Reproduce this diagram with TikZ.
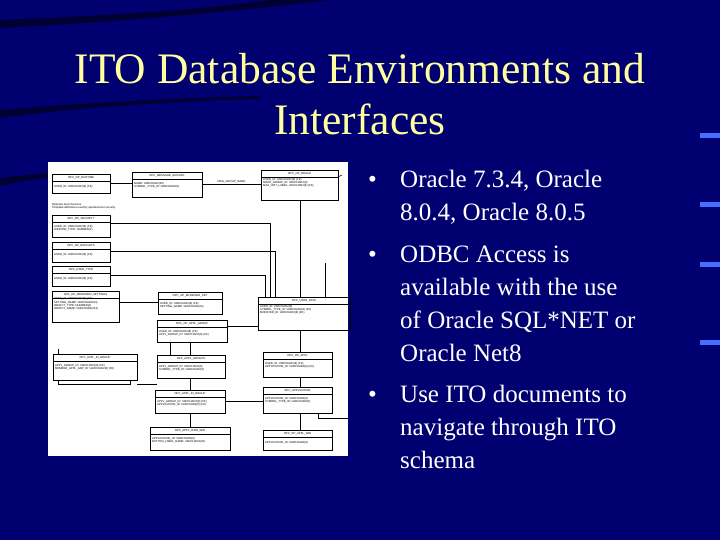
\documentclass[tikz,border=0pt]{standalone}
\usepackage{fontspec}
\setmainfont{Liberation Serif}
\newfontfamily\erf{Liberation Sans}
\definecolor{bgblue}{RGB}{0,0,112}
\definecolor{ttl}{RGB}{255,255,160}
\definecolor{tick}{RGB}{70,110,255}
\tikzset{x=1pt,y=-1pt,
 er/.style={draw=black,line width=0.5pt},
 erl/.style={draw=black,line width=0.5pt},
 ertxt/.style={font=\erf\fontsize{2.8}{3.2}\selectfont,text=black,inner sep=0pt,anchor=west,align=left},
 ertl/.style={font=\erf\fontsize{2.8}{3.2}\selectfont,text=black,inner sep=0pt},
 bul/.style={font=\fontsize{25}{31}\selectfont,text=white,anchor=base west,inner sep=0pt},
 ttlst/.style={text=ttl,font=\fontsize{43.5}{50}\selectfont,anchor=base,inner sep=0pt},
}
\newcommand{\erbox}[7]{%
 \draw[er] (#2,#3) rectangle (#4,#5);
 \draw[er] (#2,#3+7) -- (#4,#3+7);
 \node[ertl] (#1) at ({(#2+#4)/2},#3+3.5) {#6};
 \node[ertxt] (#1a) at (#2+2,#3+13) {#7};}
\begin{document}
\begin{tikzpicture}
\useasboundingbox (0,0) rectangle (720,540);
\fill[bgblue] (0,0) rectangle (720,540);
% dark background swooshes
\fill[black,opacity=0.55] (0,28) .. controls (120,22) and (250,10) .. (330,0) -- (270,0) .. controls (200,10) and (100,16) .. (0,20) -- cycle;
\fill[black,opacity=0.55] (0,110) .. controls (80,103) and (180,98) .. (260,96) -- (260,99) .. controls (180,101) and (80,107) .. (0,118) -- cycle;
\fill[black,opacity=0.55] (0,178) .. controls (40,173) and (80,170) .. (120,168) -- (120,171) .. controls (80,173) and (40,177) .. (0,186) -- cycle;
\foreach \yy in {133,202,262,340} \fill[tick] (700,\yy) rectangle (720,\yy+5);
% title
\node[ttlst] (title1) at (360,84) {ITO Database Environments and};
\node[ttlst] (title2) at (360,135) {Interfaces};
% bullets
\node[bul] (b1) at (368,188) {•};
\node[bul] (t1) at (400,188) {Oracle 7.3.4, Oracle};
\node[bul] (t1b) at (400,221) {8.0.4, Oracle 8.0.5};
\node[bul] (b2) at (368,262) {•};
\node[bul] (t2) at (400,262) {ODBC Access is};
\node[bul] (t2b) at (400,295) {available with the use};
\node[bul] (t2c) at (400,328) {of Oracle SQL*NET or};
\node[bul] (t2d) at (400,361) {Oracle Net8};
\node[bul] (b3) at (368,402) {•};
\node[bul] (t3) at (400,402) {Use ITO documents to};
\node[bul] (t3b) at (400,435) {navigate through ITO};
\node[bul] (t3c) at (400,468) {schema};
% ER diagram
\fill[white] (48,162) rectangle (348,456);
\erbox{rt}{52}{174}{110}{193}{OPC\_OP\_RUNTIME}{USER\_ID: VARCHAR2(8) (FK)}
\erbox{mg}{132}{172}{202}{197}{OPC\_MESSAGE\_GROUPS}{NAME: VARCHAR2(32)\\SYMBOL\_TYPE\_ID: VARCHAR2(8)}
\erbox{tm}{261}{170}{338}{200}{OPC\_OP\_REALM}{USER\_ID: VARCHAR2(8) (FK)\\NODE\_GROUP\_ID: VARCHAR2(8)\\MAX\_VIRT\_LABEL: VARCHAR2(8) (FK)}
\node[ertxt] (note) at (52,206) {Operator level Services\\Template definitions used by operator/user security};
\erbox{sc}{52}{215}{110}{237}{OPC\_OP\_SECURITY}{USER\_ID: VARCHAR2(8) (FK)\\WINDOW\_TYPE: NUMBER(1)}
\erbox{df}{52}{242}{110}{262}{OPC\_OP\_DEFAULTS}{USER\_ID: VARCHAR2(8) (FK)}
\erbox{ut}{52}{266}{110}{286}{OPC\_USER\_TYPE}{USER\_ID: VARCHAR2(8) (FK)}
\erbox{bs}{52}{291}{119}{322}{OPC\_OP\_BROWSER\_SETTINGS}{USER\_ID: VARCHAR2(8) (FK)\\SETTING\_NAME: VARCHAR2(64)\\OBJECT\_TYPE: NUMBER(4)\\OBJECT\_NAME: VARCHAR2(254)}
\erbox{bw}{158}{292}{222}{314}{OPC\_OP\_BROWSER\_SET}{USER\_ID: VARCHAR2(8) (FK)\\SETTING\_NAME: VARCHAR2(64)}
\erbox{ud}{258}{297}{350}{330}{OPC\_USER\_DATA}{USER\_ID: VARCHAR2(8)\\SYMBOL\_TYPE\_ID: VARCHAR2(8) (FK)\\MODIFIER\_ID: VARCHAR2(8) (FK)}
\erbox{ag}{157}{320}{227}{342}{OPC\_OP\_APPL\_GROUP}{USER\_ID: VARCHAR2(8) (FK)\\APPL\_GROUP\_ID: VARCHAR2(8) (FK)}
\erbox{ig}{53}{354}{137}{380}{OPC\_APPL\_IN\_GROUP}{APPL\_GROUP\_ID: VARCHAR2(8) (FK)\\MEMBER\_APPL\_GRP\_ID: VARCHAR2(8) (FK)}
\erbox{gr}{157}{355}{225}{378}{OPC\_APPL\_GROUPS}{APPL\_GROUP\_ID: VARCHAR2(8)\\SYMBOL\_TYPE\_ID: VARCHAR2(8)}
\erbox{oa}{263}{352}{332}{377}{OPC\_OP\_APPL}{USER\_ID: VARCHAR2(8) (FK)\\APPLICATION\_ID: VARCHAR2(8) (FK)}
\erbox{ai}{155}{390}{225}{413}{OPC\_APPL\_IN\_GROUP}{APPL\_GROUP\_ID: VARCHAR2(8) (FK)\\APPLICATION\_ID: VARCHAR2(8) (FK)}
\erbox{ap}{263}{387}{332}{413}{OPC\_APPLICATION}{APPLICATION\_ID: VARCHAR2(8)\\SYMBOL\_TYPE\_ID: VARCHAR2(8)}
\erbox{aw}{150}{427}{230}{450}{OPC\_APPL\_ICON\_WIN}{APPLICATION\_ID: VARCHAR2(8)\\BUTTON\_LABEL\_NAME: VARCHAR2(32)}
\erbox{ow}{263}{430}{332}{450}{OPC\_OP\_APPL\_WIN}{APPLICATION\_ID: VARCHAR2(8)}
% connectors
\coordinate (r1) at (342,175);
\draw[erl] (110,183) -- (132,183);
\draw[erl] (202,184) -- (261,184) node[midway,above=0.5pt,ertl]{MSG\_GROUP\_NAME};
\draw[erl] (338,177) -- (r1);
\draw[erl] (110,223) -- (270,223) -- (270,297);
\draw[erl] (110,251) -- (275,251) -- (275,297);
\draw[erl] (110,275) -- (265,275) -- (265,297);
\draw[erl] (300,200) -- (300,297);
\draw[erl] (325,263) -- (325,297);
\draw[erl] (119,302) -- (158,302);
\draw[erl] (227,326) -- (258,326);
\draw[erl] (170,342) -- (170,355);
\draw[erl] (190,342) -- (190,355);
\draw[erl] (190,378) -- (190,390);
\draw[erl] (58,354) -- (58,349);
\draw[erl] (58,380) -- (58,384) -- (130,384) -- (130,380);
\draw[erl] (137,384) -- (157,384);
\draw[erl] (225,401) -- (263,401);
\draw[erl] (300,330) -- (300,352);
\draw[erl] (300,377) -- (300,387);
\draw[erl] (300,413) -- (300,430);
\draw[erl] (190,413) -- (190,427);
\draw[erl] (318,413) -- (318,418) -- (348,418);
\end{tikzpicture}
\end{document}
